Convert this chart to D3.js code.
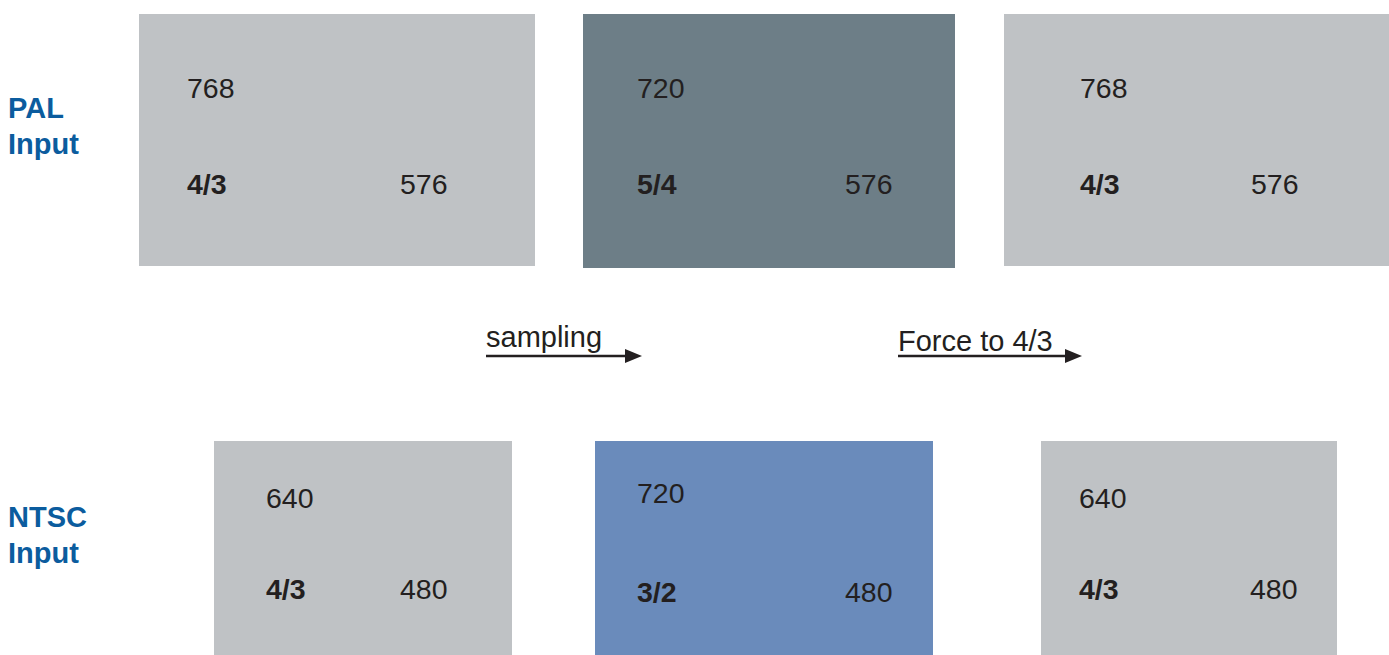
<!DOCTYPE html>
<html><head><meta charset="utf-8">
<script src="https://cdn.jsdelivr.net/npm/d3@7/dist/d3.min.js"></script>
<style>html,body{margin:0;padding:0;background:#fff;overflow:hidden}</style>
</head><body><svg id="c" width="1389" height="655"></svg>
<script>
// ---- data ----
const rowLabels = [["PAL","Input"],["NTSC","Input"]];
const widthLabels = [["768","720","768"],["640","720","640"]];
const heightLabels = [["576","576","576"],["480","480","480"]];
const ratioLabels = [["4/3","5/4","4/3"],["4/3","3/2","4/3"]];
const boxKinds = [["plain","pal","plain"],["plain","ntsc","plain"]];
const stepLabels = ["sampling","Force to 4/3"];

// ---- layout (separate from data) ----
const boxGeom = [
  [{x:139,y:14,w:396,h:252,tx:48,hx:261,ty1:98,ty2:194},
   {x:583,y:14,w:372,h:254,tx:54,hx:262,ty1:98,ty2:194},
   {x:1004,y:14,w:400,h:252,tx:76,hx:247,ty1:98,ty2:194}],
  [{x:214,y:441,w:298,h:230,tx:52,hx:186,ty1:508,ty2:599},
   {x:595,y:441,w:338,h:230,tx:42,hx:250,ty1:503,ty2:602},
   {x:1041,y:441,w:296,h:230,tx:38,hx:209,ty1:508,ty2:599}]
];
const rowLabelY = [[118,154],[527,563]];
const stepGeom = [{x1:486,x2:642,y:356,ty:347},{x1:898,x2:1082,y:356,ty:351}];
const fill = d3.scaleOrdinal().domain(["plain","pal","ntsc"]).range(["#bfc2c5","#6d7e87","#6a8bbb"]);
const font = "'Liberation Sans', Arial, Helvetica, sans-serif";
const textCol = "#231f20";

const svg = d3.select("#c");

// boxes
const boxes = [];
boxKinds.forEach((row,r)=>row.forEach((k,c)=>boxes.push({r,c,kind:k,g:boxGeom[r][c],
  w:widthLabels[r][c],h:heightLabels[r][c],ratio:ratioLabels[r][c]})));

const bg = svg.selectAll("g.box").data(boxes).join("g").attr("class","box")
  .attr("transform",d=>`translate(${d.g.x},${d.g.y})`);
bg.append("rect").attr("width",d=>d.g.w).attr("height",d=>d.g.h).attr("fill",d=>fill(d.kind));
bg.append("text").attr("x",d=>d.g.tx).attr("y",d=>d.g.ty1-d.g.y).text(d=>d.w)
  .attr("font-family",font).attr("font-size",28.5).attr("fill",textCol);
bg.append("text").attr("x",d=>d.g.tx).attr("y",d=>d.g.ty2-d.g.y).text(d=>d.ratio)
  .attr("font-family",font).attr("font-size",28.5).attr("font-weight","bold").attr("fill",textCol);
bg.append("text").attr("x",d=>d.g.hx).attr("y",d=>d.g.ty2-d.g.y).text(d=>d.h)
  .attr("font-family",font).attr("font-size",28.5).attr("fill",textCol);

// row labels
rowLabels.forEach((lines,r)=>{
  svg.append("g").selectAll("text").data(lines).join("text")
    .attr("x",8).attr("y",(d,i)=>rowLabelY[r][i]).text(d=>d)
    .attr("font-family",font).attr("font-size",29).attr("font-weight","bold").attr("fill","#0b5c9e");
});

// steps
stepLabels.forEach((s,i)=>{
  const g = stepGeom[i];
  svg.append("text").attr("x",g.x1).attr("y",g.ty).text(s)
    .attr("font-family",font).attr("font-size",29).attr("fill",textCol);
  svg.append("line").attr("x1",g.x1).attr("x2",g.x2-12).attr("y1",g.y).attr("y2",g.y)
    .attr("stroke",textCol).attr("stroke-width",2.6);
  svg.append("path").attr("d",`M${g.x2},${g.y} L${g.x2-17},${g.y-7} L${g.x2-17},${g.y+7} Z`)
    .attr("fill",textCol);
});
</script></body></html>
